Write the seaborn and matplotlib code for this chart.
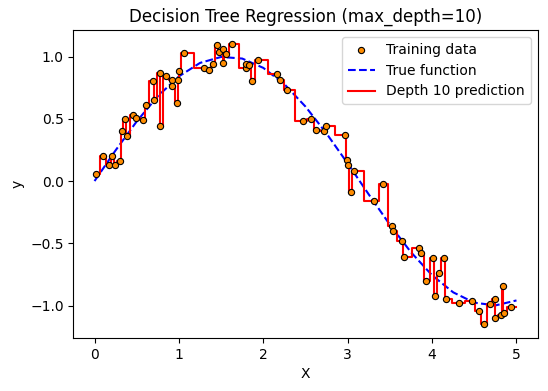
import numpy as np
import pandas as pd
import matplotlib
matplotlib.use("Agg")
import matplotlib.pyplot as plt
import seaborn as sns

# training samples
x_train = [0.02, 0.10, 0.17, 0.21, 0.24, 0.30, 0.32, 0.36, 0.38, 0.45,
           0.49, 0.58, 0.61, 0.69, 0.71, 0.78, 0.78, 0.85, 0.92, 0.92,
           0.98, 0.99, 1.00, 1.06, 1.30, 1.36, 1.40, 1.45, 1.47, 1.52,
           1.52, 1.56, 1.63, 1.79, 1.80, 1.83, 1.87, 1.94, 2.16, 2.20,
           2.28, 2.47, 2.57, 2.62, 2.72, 2.74, 2.97, 2.99, 3.00, 3.04,
           3.07, 3.31, 3.42, 3.53, 3.54, 3.64, 3.67, 3.85, 3.87, 3.93,
           4.01, 4.04, 4.08, 4.14, 4.16, 4.32, 4.47, 4.55, 4.61, 4.69,
           4.74, 4.74, 4.82, 4.84, 4.85, 4.93]
y_train = [0.06, 0.20, 0.13, 0.20, 0.13, 0.16, 0.40, 0.50, 0.36, 0.53,
           0.51, 0.49, 0.61, 0.80, 0.65, 0.87, 0.44, 0.84, 0.81, 0.76,
           0.63, 0.81, 0.88, 1.03, 0.91, 0.89, 0.94, 1.09, 1.04, 1.06,
           0.95, 1.02, 1.10, 0.91, 0.94, 0.93, 0.80, 0.97, 0.86, 0.81,
           0.73, 0.48, 0.50, 0.41, 0.40, 0.44, 0.37, 0.17, 0.13, -0.09,
           0.08, -0.16, -0.02, -0.36, -0.40, -0.48, -0.61, -0.54, -0.58, -0.80,
           -0.62, -0.92, -0.74, -0.62, -0.95, -0.98, -0.96, -1.04, -1.15, -0.99,
           -0.95, -1.10, -1.08, -0.84, -1.06, -1.01]

# true function sampled from the dashed curve
x_true = [0.0, 0.25, 0.5, 0.75, 1.0, 1.25, 1.5, 1.75, 2.0, 2.25, 2.5,
          2.75, 3.0, 3.25, 3.5, 3.75, 4.0, 4.25, 4.5, 4.75, 5.0]
y_true = [0.0, 0.247, 0.479, 0.682, 0.841, 0.949, 0.997, 0.984, 0.909, 0.778, 0.598,
          0.381, 0.141, -0.108, -0.351, -0.572, -0.757, -0.894, -0.977, -0.999, -0.959]

x_range = [0.0, 5.0]

train = pd.DataFrame({"X": x_train, "y": y_train})
true_df = pd.DataFrame({"X": x_true, "y": y_true})
# piecewise-constant prediction: each leaf holds one sample, extended to the grid ends
pred = pd.DataFrame({"X": [x_range[0]] + x_train + [x_range[1]],
                     "y": [y_train[0]] + y_train + [y_train[-1]]})

fig, ax = plt.subplots(figsize=(5.48, 3.91), dpi=100)

sns.scatterplot(data=train, x="X", y="y", s=20, color="darkorange",
                edgecolor="black", linewidth=0.8, label="Training data", ax=ax, zorder=3)
sns.lineplot(data=true_df, x="X", y="y", color="blue", linestyle="--",
             linewidth=1.5, label="True function", ax=ax, estimator=None)
sns.lineplot(data=pred, x="X", y="y", color="red", linewidth=1.5,
             drawstyle="steps-mid", label="Depth 10 prediction", ax=ax,
             estimator=None, sort=False)

ax.set_xlabel("X")
ax.set_ylabel("y")
ax.set_title("Decision Tree Regression (max_depth=10)")
ax.legend(loc="upper right")
ax.margins(x=0.05, y=0.05)

plt.subplots_adjust(left=0.134, right=0.981, top=0.923, bottom=0.135)
plt.savefig("out.png", dpi=100)
